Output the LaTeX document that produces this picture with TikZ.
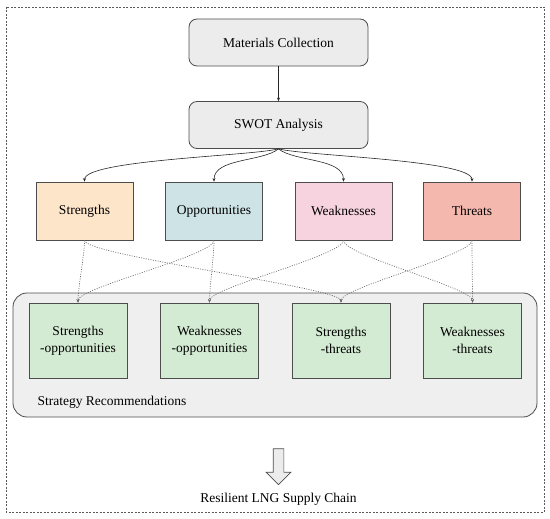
\documentclass[tikz,border=0pt]{standalone}
\usepackage{fontspec}
\setmainfont{Liberation Serif}
\usetikzlibrary{arrows.meta,shapes.arrows}

\definecolor{boxgray}{HTML}{ECECEC}
\definecolor{panelgray}{HTML}{EFEFEF}
\definecolor{edgegray}{HTML}{4D4D4D}
\definecolor{strcol}{HTML}{FDE5C9}
\definecolor{oppcol}{HTML}{CDE3E6}
\definecolor{weakcol}{HTML}{F6D3DE}
\definecolor{thrcol}{HTML}{F5B8AE}
\definecolor{stratcol}{HTML}{D4EBD3}

\tikzset{
  txt/.style={font=\fontsize{13.5}{17}\selectfont},
  stagebox/.style={txt, draw=edgegray, line width=0.8pt, fill=boxgray, rounded corners=8pt,
    minimum width=179pt, minimum height=47pt},
  swotbox/.style={txt, draw=edgegray, line width=0.8pt, minimum width=97pt, minimum height=58pt},
  stratbox/.style={txt, draw=edgegray, line width=0.8pt, fill=stratcol, align=center,
    minimum width=98pt, minimum height=75pt},
  tip/.style={-{Stealth[length=3.5pt,width=3pt]}},
  link/.style={tip, draw=black!85, line width=0.6pt},
  cross/.style={tip, draw=gray!85!black, line width=0.7pt, dash pattern=on 1pt off 1.4pt}
}

\begin{document}
\begin{tikzpicture}[x=1pt, y=-1pt]
  \useasboundingbox (0,0) rectangle (550,519);
  \draw[gray!70!black, line width=0.6pt, dash pattern=on 2pt off 1.5pt] (6,7) rectangle (544,512);

  % main stages
  \node[stagebox] (mat) at (278.5,42.5) {Materials Collection};
  \node[stagebox] (swot) at (278.5,125) {SWOT Analysis};
  \draw[link] (mat) -- (swot);

  % SWOT factors
  \node[swotbox, fill=strcol] (str) at (84.5,211) {Strengths};
  \node[swotbox, fill=oppcol] (opp) at (214,211) {Opportunities};
  \node[swotbox, fill=weakcol] (weak) at (343.5,211) {Weaknesses};
  \node[swotbox, fill=thrcol] (thr) at (472,211) {Threats};

  \draw[link] (swot.south) .. controls (250,156) and (84.5,160) .. (str.north);
  \draw[link] (swot.south) .. controls (262,162) and (214,158) .. (opp.north);
  \draw[link] (swot.south) .. controls (295,162) and (343.5,158) .. (weak.north);
  \draw[link] (swot.south) .. controls (307,156) and (472,160) .. (thr.north);

  % strategy panel
  \draw[edgegray, line width=0.8pt, fill=panelgray, rounded corners=14pt] (13,293) rectangle (537,417);
  \node[txt, anchor=west] (rec) at (34,402) {Strategy Recommendations};

  \node[stratbox] (so) at (78,340.5) {Strengths\\-opportunities};
  \node[stratbox] (wo) at (209.5,340.5) {Weaknesses\\-opportunities};
  \node[stratbox] (st) at (341,340.5) {Strengths\\-threats};
  \node[stratbox] (wt) at (472.5,340.5) {Weaknesses\\-threats};

  \draw[cross] (str.south) .. controls +(0,15) and +(0,-15) .. (so.north);
  \draw[cross] (str.south) .. controls +(0,15) and +(0,-15) .. (st.north);
  \draw[cross] (opp.south) .. controls +(0,15) and +(0,-15) .. (so.north);
  \draw[cross] (opp.south) .. controls +(0,15) and +(0,-15) .. (wo.north);
  \draw[cross] (weak.south) .. controls +(0,15) and +(0,-15) .. (wo.north);
  \draw[cross] (weak.south) .. controls +(0,15) and +(0,-15) .. (wt.north);
  \draw[cross] (thr.south) .. controls +(0,15) and +(0,-15) .. (st.north);
  \draw[cross] (thr.south) .. controls +(0,15) and +(0,-15) .. (wt.north);

  % outcome
  \node[single arrow, draw=edgegray, line width=0.7pt, fill=boxgray, shape border rotate=270,
    minimum height=36pt, inner sep=5pt, single arrow head extend=7pt,
    single arrow head indent=0pt] (out) at (278.5,464) {};
  \node[txt] (res) at (278.5,499) {Resilient LNG Supply Chain};
\end{tikzpicture}
\end{document}
